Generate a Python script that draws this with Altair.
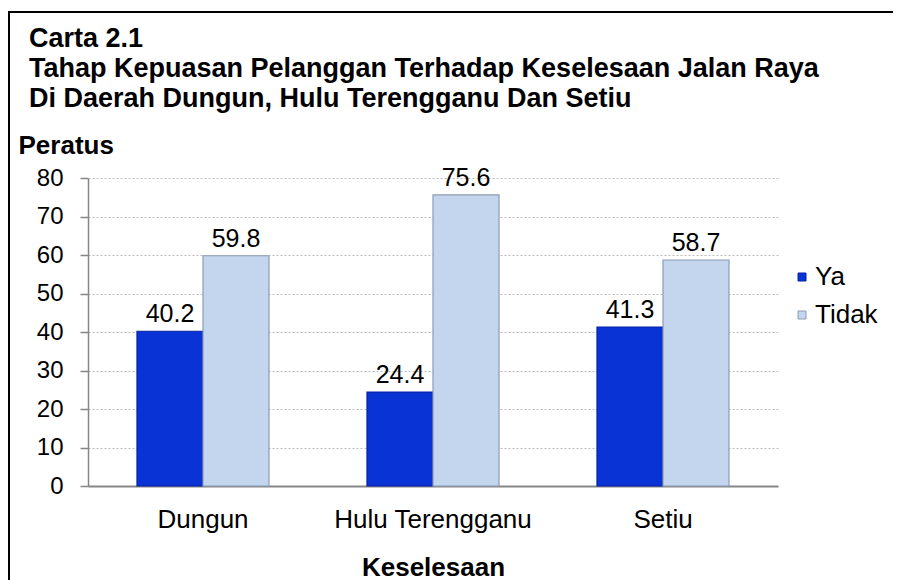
import altair as alt
import pandas as pd

# ---- data ----
categories = ["Dungun", "Hulu Terengganu", "Setiu"]
series = ["Ya", "Tidak"]
ya_values = [40.2, 24.4, 41.3]
tidak_values = [59.8, 75.6, 58.7]
y_ticks = [0, 10, 20, 30, 40, 50, 60, 70, 80]
title_lines = [
    "Carta 2.1",
    "Tahap Kepuasan Pelanggan Terhadap Keselesaan Jalan Raya",
    "Di Daerah Dungun, Hulu Terengganu Dan Setiu",
]
y_title = "Peratus"
x_title = "Keselesaan"
series_colors = ["#0A33D6", "#C3D6EE"]
series_strokes = ["#0622A6", "#8C9CB4"]

rows = []
for c, a, b in zip(categories, ya_values, tidak_values):
    rows.append({"Kawasan": c, "Siri": "Ya", "Nilai": a})
    rows.append({"Kawasan": c, "Siri": "Tidak", "Nilai": b})
df = pd.DataFrame(rows)

FONT = "Liberation Sans"

x_scale = alt.Scale(paddingInner=0.426, paddingOuter=0.213)
y_scale = alt.Scale(domain=[0, 80], nice=False, zero=True)

x_enc = alt.X(
    "Kawasan:N",
    sort=categories,
    scale=x_scale,
    axis=alt.Axis(
        title=x_title,
        titleFont=FONT,
        titleFontSize=26,
        titleFontWeight="bold",
        titleColor="black",
        titleY=89,
        titleBaseline="alphabetic",
        labelFont=FONT,
        labelFontSize=26,
        labelColor="black",
        labelAngle=0,
        labelBaseline="alphabetic",
        labelPadding=41,
        labelLimit=0,
        ticks=False,
        tickSize=0,
        domainColor="#868686",
        domainWidth=2,
        grid=False,
    ),
)
xoff_enc = alt.XOffset("Siri:N", sort=series, scale=alt.Scale(paddingInner=0, paddingOuter=0))
y_enc = alt.Y(
    "Nilai:Q",
    scale=y_scale,
    axis=alt.Axis(
        values=y_ticks,
        labelOverlap=False,
        title=y_title,
        titleFont=FONT,
        titleFontSize=26,
        titleFontWeight="bold",
        titleColor="black",
        titleAngle=0,
        titleAlign="left",
        titleBaseline="alphabetic",
        titleX=-70,
        titleY=-25,
        labelFont=FONT,
        labelFontSize=24,
        labelColor="black",
        labelPadding=17,
        tickSize=8,
        tickColor="#868686",
        tickWidth=1.5,
        domainColor="#868686",
        domainWidth=1.5,
        grid=True,
        gridColor="#BBBBBB",
        gridDash=[2, 2],
        gridWidth=1,
    ),
)

bars = alt.Chart(df).mark_bar(strokeWidth=1.2).encode(
    x=x_enc,
    xOffset=xoff_enc,
    y=y_enc,
    color=alt.Color(
        "Siri:N",
        sort=series,
        scale=alt.Scale(domain=series, range=series_colors),
        legend=alt.Legend(
            title=None,
            orient="none",
            legendX=701,
            legendY=86,
            padding=0,
            symbolType="square",
            symbolSize=64,
            symbolStrokeWidth=1,
            labelFont=FONT,
            labelFontSize=26,
            labelColor="black",
            labelOffset=0,
            rowPadding=12,
        ),
    ),
    stroke=alt.Stroke(
        "Siri:N",
        sort=series,
        scale=alt.Scale(domain=series, range=series_strokes),
        legend=None,
    ),
)

labels = alt.Chart(df).mark_text(
    font=FONT, fontSize=25, color="black", baseline="alphabetic", dy=-9
).encode(
    x=x_enc,
    xOffset=xoff_enc,
    y=y_enc,
    text=alt.Text("Nilai:Q", format=".1f"),
)

title_df = pd.DataFrame({"t": ["\n".join(title_lines)]})
title_text = alt.Chart(title_df).mark_text(
    font=FONT,
    fontSize=27,
    fontWeight="bold",
    color="black",
    align="left",
    baseline="alphabetic",
    lineBreak="\n",
    lineHeight=30,
).encode(x=alt.value(-59), y=alt.value(-131), text="t:N")

frame_df = pd.DataFrame({"f": [1]})
frame = alt.Chart(frame_df).mark_rect(
    fillOpacity=0, stroke="black", strokeWidth=2
).encode(
    x=alt.value(-79), x2=alt.value(900), y=alt.value(-166), y2=alt.value(600)
)

chart = (
    alt.layer(frame, bars, labels, title_text)
    .properties(
        width=690,
        height=308,
        padding={"left": 80, "top": 170, "right": 115, "bottom": 97},
        autosize=alt.AutoSizeParams(type="none"),
        background="white",
    )
    .configure_view(stroke=None)
)

chart.save("out.html", embed_options={"renderer": "svg", "actions": False})
